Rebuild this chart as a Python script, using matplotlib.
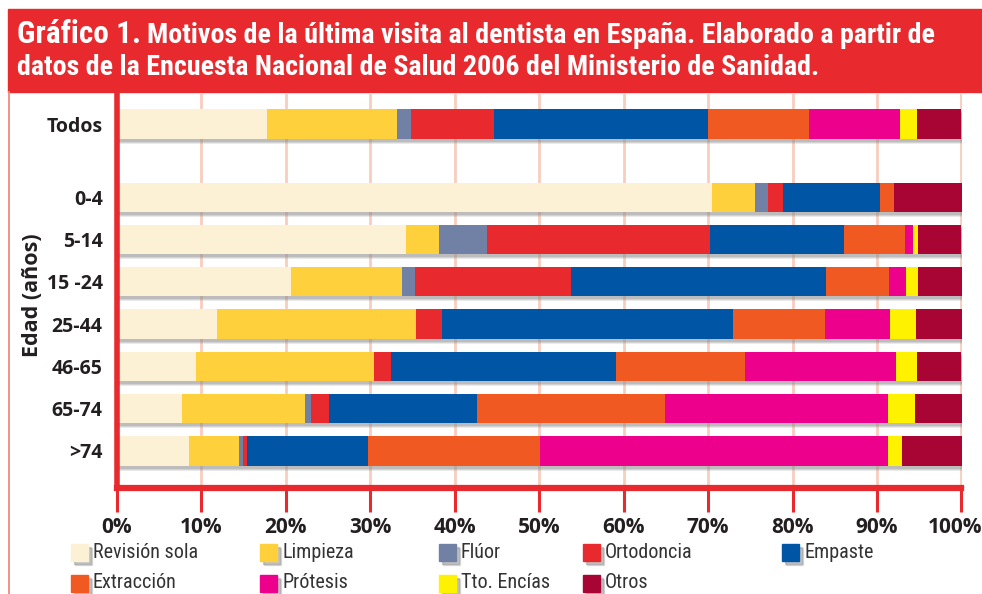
import matplotlib
matplotlib.use("Agg")
import matplotlib.pyplot as plt
from matplotlib.patches import Rectangle
from matplotlib.transforms import ScaledTranslation
import numpy as np

# ---------------- data ----------------
groups = ["Todos", "0-4", "5-14", "15 -24", "25-44", "46-65", "65-74", ">74"]
categories = ["Revisión sola", "Limpieza", "Flúor", "Ortodoncia", "Empaste",
              "Extracción", "Prótesis", "Tto. Encías", "Otros"]
revision   = [17.8, 70.5, 34.3, 20.7, 11.9,  9.4,  7.8,  8.6]
limpieza   = [15.4,  5.1,  3.9, 13.1, 23.5, 21.1, 14.5,  5.9]
fluor      = [ 1.7,  1.5,  5.7,  1.5,  0.0,  0.0,  0.7,  0.5]
ortodoncia = [ 9.8,  1.8, 26.3, 18.5,  3.1,  2.0,  2.1,  0.4]
empaste    = [25.3, 11.4, 15.9, 30.2, 34.4, 26.6, 17.6, 14.4]
extraccion = [12.0,  1.7,  7.2,  7.4, 10.9, 15.3, 22.2, 20.3]
protesis   = [10.7,  0.0,  1.0,  2.0,  7.7, 17.8, 26.4, 41.2]
encias     = [ 2.0,  0.0,  0.6,  1.4,  3.1,  2.5,  3.2,  1.7]
otros      = [ 5.3,  8.0,  5.1,  5.2,  5.4,  5.3,  5.5,  7.0]
xticks = [0, 10, 20, 30, 40, 50, 60, 70, 80, 90, 100]
xtick_labels = ["0%", "10%", "20%", "30%", "40%", "50%", "60%", "70%", "80%", "90%", "100%"]

series = [revision, limpieza, fluor, ortodoncia, empaste, extraccion, protesis, encias, otros]
colors = ["#FDF1D5", "#FDD03C", "#7181A6", "#E8292E", "#0055A4",
          "#F05A22", "#EC008C", "#FFF200", "#A80534"]

COND = ["Roboto Condensed", "Liberation Sans Narrow", "Liberation Sans", "DejaVu Sans"]
WIDE = ["Open Sans", "Noto Sans", "DejaVu Sans"]
plt.rcParams["font.family"] = COND

W, H = 982, 594
fig = plt.figure(figsize=(W / 100, H / 100), dpi=100)

def fx(px):
    return px / W

def fy(py):
    return 1 - py / H

RED = "#E8292E"
TXT = "#231F20"

# title band
fig.patches.append(Rectangle((fx(8), fy(92)), 1 - fx(8), fy(9) - fy(92),
                             transform=fig.transFigure, color=RED, zorder=0))
# thin left frame line
fig.add_artist(plt.Line2D([fx(8.5), fx(8.5)], [0, fy(92)], transform=fig.transFigure,
                          color="#F08A80", lw=1.3))

t1 = fig.text(fx(17), fy(43), "Gráfico 1.", color="white", fontsize=22.5,
              fontweight="bold", va="baseline", ha="left", family=COND)
fig.canvas.draw()
bb = t1.get_window_extent()
fig.text((bb.x1 + 6) / W, fy(43),
         "Motivos de la última visita al dentista en España. Elaborado a partir de",
         color="white", fontsize=20.2, fontweight="bold", va="baseline", ha="left",
         family=COND)
fig.text(fx(17), fy(75),
         "datos de la Encuesta Nacional de Salud 2006 del Ministerio de Sanidad.",
         color="white", fontsize=20.2, fontweight="bold", va="baseline", ha="left",
         family=COND)

# axes
ax = fig.add_axes([fx(116.5), fy(488), fx(961.5) - fx(116.5), fy(94) - fy(488)])
ypos = np.array([0.0] + [1.73 + i for i in range(len(groups) - 1)])
bh = 0.69
ppu = 42.3  # pixels per y unit

ax.set_xlim(0, 100)
ax.set_ylim(1.73 + 6 + 37 / ppu, -30 / ppu)

# gridlines
for xv in xticks[1:]:
    ax.axvline(xv, color="#F7CDBE", lw=2, zorder=0)

# bar shadows (soft, layered)
for dy, a in [(5, 0.18), (4, 0.25), (3, 0.3)]:
    ax.barh(ypos + dy / ppu, 100, left=0.35, height=bh, color="#8C8C8C",
            alpha=a, zorder=1, linewidth=0)

left = np.zeros(len(groups))
for vals, c in zip(series, colors):
    v = np.array(vals)
    ax.barh(ypos, v, left=left, height=bh, color=c, linewidth=0, zorder=2)
    left += v

ax.set_yticks(ypos)
ax.set_yticklabels(groups, fontsize=14, fontweight="bold", color=TXT, family=WIDE)
ax.tick_params(axis="y", length=0, pad=10)
ax.set_xticks(xticks)
ax.set_xticklabels(xtick_labels, fontsize=15, fontweight="bold", color=TXT, family=WIDE)
ax.tick_params(axis="x", length=17, width=2.2, color=RED, pad=4)
# keep the last label inside the canvas
last = ax.get_xticklabels()[-1]
last.set_transform(last.get_transform() + ScaledTranslation(-6 / 100, 0, fig.dpi_scale_trans))

for s in ["top", "right"]:
    ax.spines[s].set_visible(False)
ax.spines["left"].set_color(RED)
ax.spines["left"].set_linewidth(4)
ax.spines["bottom"].set_color(RED)
ax.spines["bottom"].set_linewidth(4.5)
ax.patch.set_alpha(0)

fig.text(fx(33), fy(295), "Edad (años)", rotation=90, fontsize=15.5, fontweight="bold",
         color=TXT, ha="center", va="center", family=WIDE)

# legend
col_x = [71, 260, 439, 583, 782]
row_y = [552, 583]
sw = 17
for i, (name, c) in enumerate(zip(categories, colors)):
    r, k = divmod(i, 5)
    x0 = col_x[k]
    yc = row_y[r]
    for d, a in [(4, 0.2), (3, 0.3)]:
        fig.patches.append(Rectangle((fx(x0 + d), fy(yc + sw / 2 + d)), fx(sw), fy(0) - fy(sw),
                                     transform=fig.transFigure, color="#777777",
                                     alpha=a, zorder=1))
    fig.patches.append(Rectangle((fx(x0), fy(yc + sw / 2)), fx(sw), fy(0) - fy(sw),
                                 transform=fig.transFigure, color=c, zorder=2))
    fig.text(fx(x0 + sw + 5), fy(yc), name, fontsize=14.5, color="#333333",
             ha="left", va="center", family=COND)

fig.savefig("out.png", dpi=100)
